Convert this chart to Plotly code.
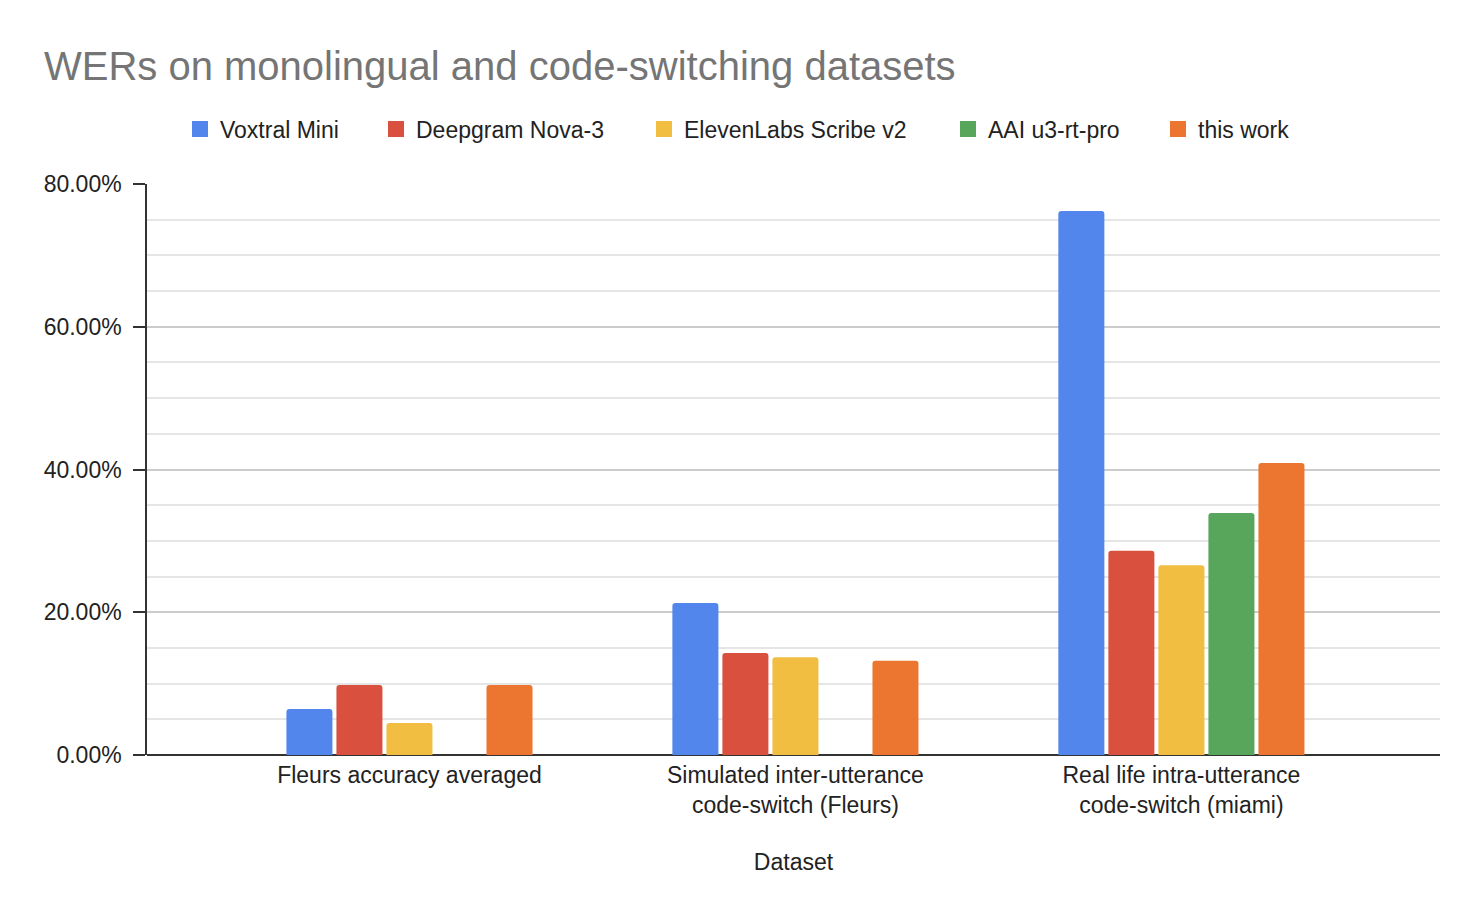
import plotly.graph_objects as go

# WER values (fractions)
datasets = [
    'Fleurs accuracy averaged',
    'Simulated inter-utterance<br>code-switch (Fleurs)',
    'Real life intra-utterance<br>code-switch (miami)',
]
voxtral_mini = [0.0645, 0.213, 0.762]
deepgram_nova3 = [0.098, 0.143, 0.286]
elevenlabs_v2 = [0.045, 0.137, 0.266]
aai_u3_rt_pro = [None, None, 0.339]
this_work = [0.098, 0.132, 0.409]

series_names = ['Voxtral Mini', 'Deepgram Nova-3', 'ElevenLabs Scribe v2', 'AAI u3-rt-pro', 'this work']
series_values = [voxtral_mini, deepgram_nova3, elevenlabs_v2, aai_u3_rt_pro, this_work]
series_colors = ['#5286EC', '#D9503F', '#F1BE42', '#58A65C', '#EC762F']
# left edge (px) of each legend entry, so the entries sit where they do in the original
legend_left_px = [172, 368, 636, 940, 1150]

FONT = 'Liberation Sans, Arial, sans-serif'
W, H = 1476, 914

fig = go.Figure()
legends = {}
for i, (name, vals, color) in enumerate(zip(series_names, series_values, series_colors)):
    fig.add_trace(go.Bar(
        name=name,
        x=datasets,
        y=vals,
        marker=dict(color=color, line=dict(width=0), cornerradius=3),
        showlegend=False,
        hovertemplate='<b>' + name + '</b><br>%{x}<br>%{y:.2%}<extra></extra>',
    ))
    # legend-only entry with a bigger square swatch
    leg_id = 'legend' if i == 0 else 'legend%d' % (i + 1)
    fig.add_trace(go.Scatter(
        name=name,
        x=[None], y=[None],
        mode='markers',
        marker=dict(symbol='square', size=16, color=color),
        showlegend=True,
        legend=leg_id,
        hoverinfo='skip',
    ))
    legends[leg_id] = dict(
        orientation='h',
        xref='container', x=legend_left_px[i] / W, xanchor='left',
        yref='container', y=1 - 121 / H, yanchor='middle',
        font=dict(family=FONT, size=23, color='#222222'),
        itemsizing='trace',
        bgcolor='rgba(0,0,0,0)',
    )

fig.update_layout(
    width=W,
    height=H,
    paper_bgcolor='white',
    plot_bgcolor='white',
    font=dict(family=FONT, size=23, color='#222222'),
    title=dict(
        text='WERs on monolingual and code-switching datasets',
        font=dict(family=FONT, size=40, color='#757575'),
        xref='container', x=36 / W, xanchor='left',
        yref='container', y=1 - 58 / H, yanchor='middle',
    ),
    margin=dict(l=139, r=44, t=176, b=167),
    barmode='group',
    bargap=0.352,
    bargroupgap=0.08,
    showlegend=True,
    **legends,
)

fig.update_xaxes(
    range=[-0.68, 2.67],
    showgrid=False,
    showline=False,
    ticks='',
    ticklabelstandoff=4,
    tickfont=dict(size=23, color='#222222'),
    title=dict(text='Dataset', font=dict(size=23, color='#222222'), standoff=36),
)

fig.update_yaxes(
    range=[0, 0.8],
    tickvals=[0, 0.2, 0.4, 0.6, 0.8],
    tickformat='.2%',
    showgrid=True,
    gridcolor='#CCCCCC',
    gridwidth=1.5,
    minor=dict(dtick=0.05, showgrid=True, gridcolor='#E5E5E5', gridwidth=1.5),
    showline=True,
    linecolor='#333333',
    linewidth=1.5,
    ticks='outside',
    ticklen=12,
    tickcolor='#333333',
    tickwidth=1.5,
    ticklabelstandoff=7,
    zeroline=True,
    zerolinecolor='#333333',
    zerolinewidth=2,
    tickfont=dict(size=23, color='#222222'),
)

fig.write_html('out.html')
